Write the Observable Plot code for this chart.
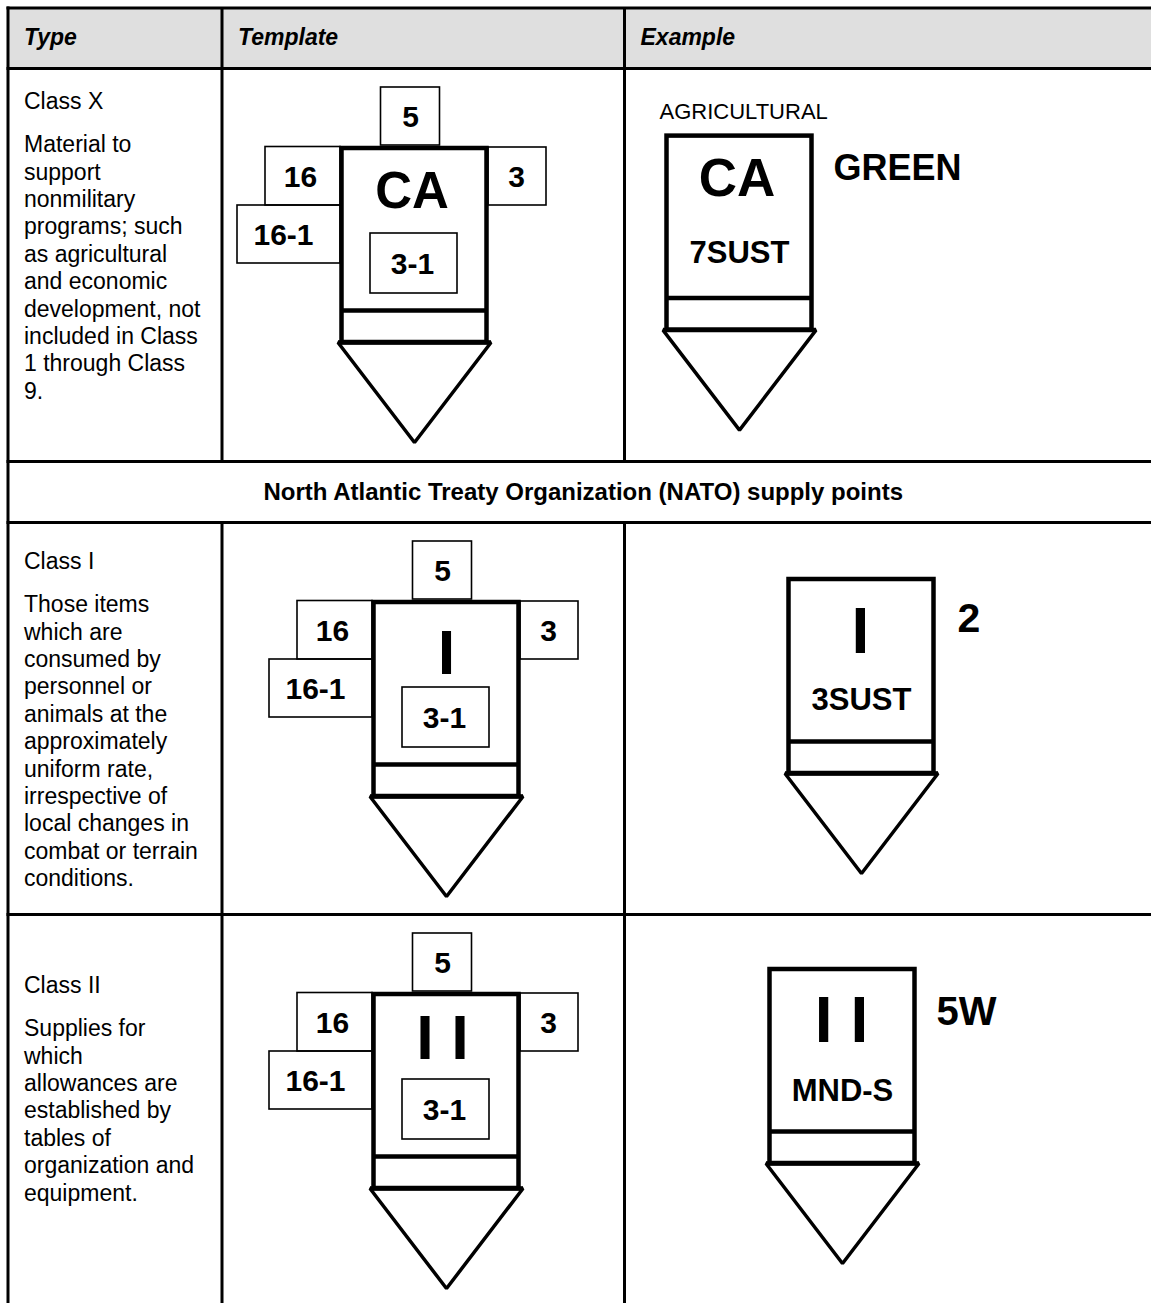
<!DOCTYPE html>
<html>
<head>
<meta charset="utf-8">
<script src="https://cdn.jsdelivr.net/npm/d3@7"></script>
<script src="https://cdn.jsdelivr.net/npm/@observablehq/plot@0.6"></script>
<style>
html, body { margin: 0; padding: 0; background: #fff; overflow: hidden; }
#chart svg { display: block; }
</style>
</head>
<body>
<div id="chart"></div>
<script>
// ---------------- DATA ----------------
const headers = ["Type", "Template", "Example"];
const sectionTitle = "North Atlantic Treaty Organization (NATO) supply points";
const typeNames = ["Class X", "Class I", "Class II"];
const typeDescriptions = [
  ["Material to", "support", "nonmilitary", "programs; such", "as agricultural", "and economic",
   "development, not", "included in Class", "1 through Class", "9."],
  ["Those items", "which are", "consumed by", "personnel or", "animals at the", "approximately",
   "uniform rate,", "irrespective of", "local changes in", "combat or terrain", "conditions."],
  ["Supplies for", "which", "allowances are", "established by", "tables of", "organization and",
   "equipment."]
];
const templateSymbols = ["CA", "I", "I I"];
const templateFields = ["5", "16", "16-1", "3", "3-1"];
const exampleOwners = ["AGRICULTURAL", "", ""];
const exampleSymbols = ["CA", "I", "I I"];
const exampleUnits = ["7SUST", "3SUST", "MND-S"];
const exampleQualifiers = ["GREEN", "2", "5W"];

// ---------------- LAYOUT ----------------
const W = 1151, H = 1303;
const FONT = "'Liberation Sans', Arial, Helvetica, sans-serif";
const tableLeft = 7.5, tableTop = 7.5, tableRight = 1160;
const colX = [7.5, 221.5, 624];
const headerBottom = 68;
const natoTop = 461, natoBottom = 522;
const rowTop = [68, 522, 914];
const rowBottom = [461, 914, 1400];

const bodySize = 23, lineStep = 27.4;
const nameBaseline = [40, 46, 78];

// template symbol layout (relative to centre x and row top)
const tplCx = [414, 446, 446];
const tplSym = [{dx: -2.5, base: 139, size: 51}, {dx: 0, base: 151, size: 63}, {dx: -4, base: 144, size: 63}];
const tplBoxTop = 80;
const fieldBoxes = [
  {x1: -33.5, x2: 25.5, y1: 19, y2: 77, tx: -4},
  {x1: -149, x2: -74, y1: 78.5, y2: 137, tx: -114},
  {x1: -177, x2: -74, y1: 137, y2: 195, tx: -131},
  {x1: 74, x2: 132, y1: 79, y2: 137, tx: 102},
  {x1: -44, x2: 43, y1: 165, y2: 225, tx: -2}
];
const fieldSize = 30;

// example symbol layout
const exCx = [739, 861, 842];
const exTop = [67.6, 57, 55];
const exSym = [{dx: -2.5, base: 59.4, size: 53}, {dx: -1, base: 73, size: 64}, {dx: -1, base: 72.5, size: 64}];
const exUnitBase = [127, 130.5, 131];
const exQual = [{dx: 94, base: 111, size: 36}, {dx: 96, base: 109.5, size: 41}, {dx: 94, base: 110, size: 40}];
const boxHeight = 194, halfW = 72.5, innerGap = 32, tipDepth = 100, baseOver = 4;

// ---------------- BUILD MARK DATA ----------------
const tableLines = [];
const thickLines = [];
const mainBoxes = [];
const thinBoxes = [];
const triangles = [];
const texts = [];

// table grid
tableLines.push({x1: tableLeft - 1.5, x2: tableRight, y1: tableTop, y2: tableTop});
[headerBottom, natoTop, natoBottom, rowBottom[1]].forEach(y =>
  tableLines.push({x1: tableLeft - 1.5, x2: tableRight, y1: y, y2: y}));
tableLines.push({x1: tableLeft, x2: tableLeft, y1: tableTop - 1.5, y2: H + 10});
[colX[1], colX[2]].forEach(x => {
  tableLines.push({x1: x, x2: x, y1: tableTop, y2: natoTop});
  tableLines.push({x1: x, x2: x, y1: natoBottom, y2: H + 10});
});

// headers
headers.forEach((h, i) => texts.push({x: colX[i] + 16, y: 44, text: h, size: 23, weight: "bold", style: "italic", anchor: "start"}));
texts.push({x: (tableLeft + tableRight) / 2 - 1, y: 499.5, text: sectionTitle, size: 24, weight: "bold", style: "normal", anchor: "middle"});

// type column
typeNames.forEach((name, r) => {
  const t = rowTop[r];
  const b = t + nameBaseline[r];
  texts.push({x: colX[0] + 16, y: b, text: name, size: bodySize, weight: "normal", style: "normal", anchor: "start"});
  typeDescriptions[r].forEach((line, k) =>
    texts.push({x: colX[0] + 16, y: b + 43.7 + k * lineStep, text: line, size: bodySize, weight: "normal", style: "normal", anchor: "start"}));
});

function addSymbol(id, cx, top) {
  const bottom = top + boxHeight;
  mainBoxes.push({x1: cx - halfW, x2: cx + halfW, y1: top, y2: bottom});
  thickLines.push({x1: cx - halfW, x2: cx + halfW, y1: bottom - innerGap, y2: bottom - innerGap});
  thickLines.push({x1: cx - halfW - baseOver, x2: cx + halfW + baseOver, y1: bottom, y2: bottom});
  triangles.push({id, x: cx - halfW - baseOver, y: bottom});
  triangles.push({id, x: cx + halfW + baseOver, y: bottom});
  triangles.push({id, x: cx, y: bottom + tipDepth});
}

// template column
templateSymbols.forEach((sym, r) => {
  const t = rowTop[r], cx = tplCx[r];
  addSymbol("t" + r, cx, t + tplBoxTop);
  fieldBoxes.forEach((fb, k) => {
    thinBoxes.push({x1: cx + fb.x1, x2: cx + fb.x2, y1: t + fb.y1, y2: t + fb.y2});
    texts.push({x: cx + fb.tx, y: t + (fb.y1 + fb.y2) / 2 + 0.36 * fieldSize, text: templateFields[k], size: fieldSize, weight: "bold", style: "normal", anchor: "middle"});
  });
  texts.push({x: cx + tplSym[r].dx, y: t + tplSym[r].base, text: sym, size: tplSym[r].size, weight: "bold", style: "normal", anchor: "middle"});
});

// example column
exampleSymbols.forEach((sym, r) => {
  const t = rowTop[r], cx = exCx[r], top = t + exTop[r];
  addSymbol("e" + r, cx, top);
  if (exampleOwners[r]) texts.push({x: cx - 80, y: top - 17, text: exampleOwners[r], size: 22, weight: "normal", style: "normal", anchor: "start"});
  texts.push({x: cx + exSym[r].dx, y: top + exSym[r].base, text: sym, size: exSym[r].size, weight: "bold", style: "normal", anchor: "middle"});
  texts.push({x: cx, y: top + exUnitBase[r], text: exampleUnits[r], size: 31, weight: "bold", style: "normal", anchor: "middle"});
  texts.push({x: cx + exQual[r].dx, y: t + exQual[r].base, text: exampleQualifiers[r], size: exQual[r].size, weight: "bold", style: "normal", anchor: "start"});
});

// group texts by constant style options
const groups = d3.groups(texts, d => d.weight + "|" + d.style + "|" + d.anchor);
const textMarks = groups.map(([key, items]) => {
  const [w, s, a] = key.split("|");
  return Plot.text(items, {
    x: "x", y: "y", text: "text", fontSize: d => d.size,
    fontWeight: w, fontStyle: s, textAnchor: a, lineAnchor: "bottom",
    fontFamily: FONT, fill: "black"
  });
});

const chart = Plot.plot({
  width: W, height: H,
  margin: 0,
  x: {type: "linear", domain: [0, W], range: [0, W], axis: null},
  y: {type: "linear", domain: [0, H], range: [0, H], axis: null},
  style: {background: "white", overflow: "hidden"},
  marks: [
    Plot.rect([{x1: tableLeft, x2: tableRight, y1: tableTop, y2: headerBottom}], {x1: "x1", x2: "x2", y1: "y1", y2: "y2", fill: "#dfdfdf"}),
    Plot.link(tableLines, {x1: "x1", x2: "x2", y1: "y1", y2: "y2", stroke: "black", strokeWidth: 3}),
    Plot.line(triangles, {x: "x", y: "y", z: "id", curve: "linear-closed", stroke: "black", strokeWidth: 3.5, fill: "white", strokeLinejoin: "miter"}),
    Plot.rect(mainBoxes, {x1: "x1", x2: "x2", y1: "y1", y2: "y2", fill: "white", stroke: "black", strokeWidth: 4.5}),
    Plot.rect(thinBoxes, {x1: "x1", x2: "x2", y1: "y1", y2: "y2", fill: "none", stroke: "black", strokeWidth: 1.6}),
    Plot.link(thickLines, {x1: "x1", x2: "x2", y1: "y1", y2: "y2", stroke: "black", strokeWidth: 4.5}),
    ...textMarks
  ]
});
document.getElementById("chart").append(chart);
</script>
</body>
</html>
